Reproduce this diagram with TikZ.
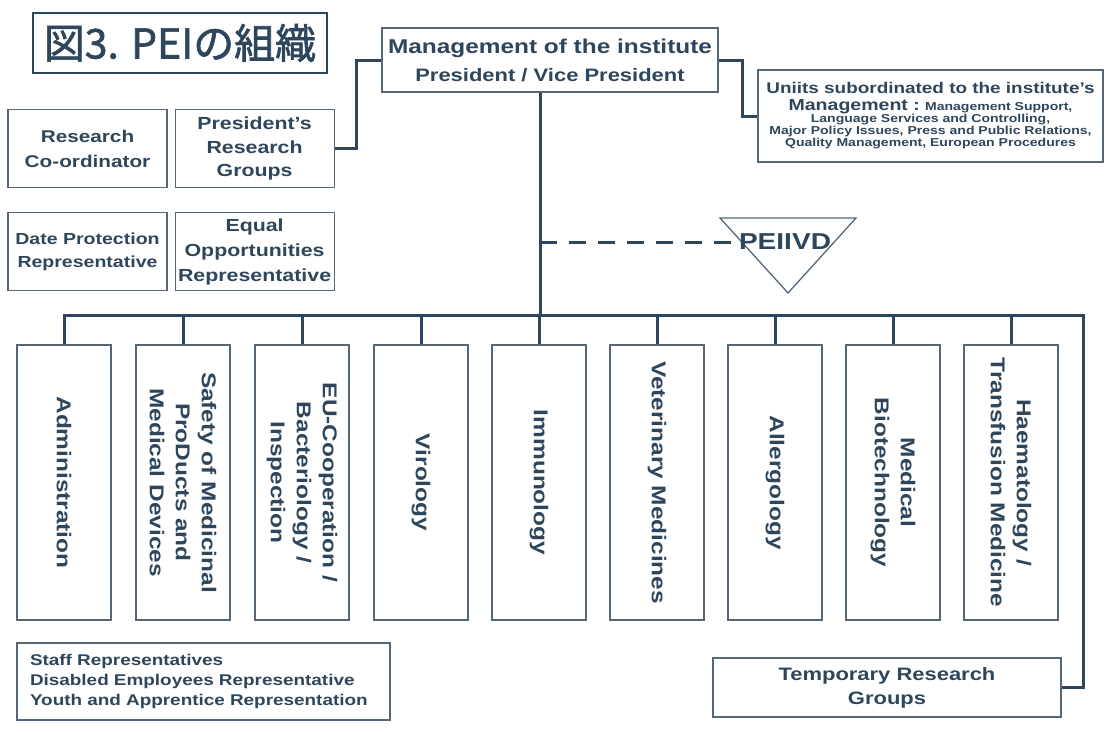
\documentclass[tikz,border=0pt]{standalone}
\usepackage{fontspec}
\setmainfont{Liberation Sans}[FakeStretch=1.22]
\newfontfamily\jpfont{Noto Sans CJK JP}[FakeBold=1.6]
\usetikzlibrary{positioning}
\definecolor{peiblue}{RGB}{46,70,92}
\definecolor{peiedge}{RGB}{86,104,120}
\tikzset{
	orgbox/.style = {draw=peiedge, line width=1.1pt, align=center, inner sep=2pt, text=peiblue, font=\bfseries},
	sidebox/.style = {orgbox, minimum width=159pt, minimum height=78pt},
	deptbox/.style = {orgbox, rotate=-90, minimum width=275pt, minimum height=94pt, font=\bfseries\fontsize{20}{26}\selectfont},
	link/.style = {draw=peiblue, line width=3pt},
	dashlink/.style = {link, dash pattern=on 17pt off 12pt}
}

\begin{document}
\begin{tikzpicture}[x=1pt, y=-1pt]
\useasboundingbox (0,0) rectangle (1107,731);

\node [draw=peiblue, line width=2.5pt, minimum width=294pt, minimum height=60pt, text=peiblue, font=\jpfont\fontsize{41}{44}\selectfont] (title) at (180,43) {図3. PEIの組織};

\node [orgbox, minimum width=336pt, minimum height=64pt, font=\bfseries\fontsize{20}{28}\selectfont] (mgmt) at (550,60) {Management of the institute\\ \fontsize{18}{28}\selectfont President / Vice President};
\node [orgbox, minimum width=345pt, minimum height=92pt, inner sep=1pt, font=\bfseries\fontsize{11.5}{12}\selectfont] (units) at (930.5,116) {{\fontsize{15.5}{18}\selectfont Uniits subordinated to the institute's}\\[5pt] {\fontsize{16}{18}\selectfont Management :} Management Support,\\ Language Services and Controlling,\\ Major Policy Issues, Press and Public Relations,\\ Quality Management, European Procedures};

\node [sidebox, font=\bfseries\fontsize{17}{25}\selectfont] (rc) at (87.5,148.5) {Research\\Co-ordinator};
\node [sidebox, right=7pt of rc, font=\bfseries\fontsize{17.5}{23.5}\selectfont] (prg) {President's\\Research\\Groups};
\node [sidebox, below=24pt of rc, font=\bfseries\fontsize{16}{23}\selectfont] (dp) {Date Protection\\Representative};
\node [sidebox, below=24pt of prg, inner sep=0pt, font=\bfseries\fontsize{17.5}{25}\selectfont] (eo) {Equal\\Opportunities\\Representative};

\draw [draw=peiedge, line width=1.3pt] (720,218) -- (856,218) -- (788,293) -- cycle;
\node [text=peiblue, font=\bfseries\fontsize{23}{24}\selectfont, inner sep=1pt] (peiivd) at (785,242) {PEIIVD};

\foreach \x/\name/\txt in {
	64/adm/Administration,
	183/saf/{Safety of Medicinal\\ProDucts and\\Medical Devices},
	302/eu/{EU-Cooperation /\\Bacteriology /\\Inspection},
	421/vir/Virology,
	539/imm/Immunology,
	657/vet/Veterinary Medicines,
	775/all/Allergology,
	893/bio/{Medical\\Biotechnology},
	1011/hae/{Haematology /\\Transfusion Medicine}}
	\node [deptbox] (\name) at (\x,482.5) {\txt};

\node [orgbox, minimum width=348pt, minimum height=59pt, font=\bfseries\fontsize{18}{24}\selectfont] (temp) at (887,687.5) {Temporary Research\\Groups};
\node [orgbox, align=left, text width=347pt, inner xsep=13pt, minimum height=77pt, font=\bfseries\fontsize{15.5}{20}\selectfont] (staff) at (203.5,681.5) {Staff Representatives\\Disabled Employees Representative\\Youth and Apprentice Representation};

\coordinate (trunk) at (540,315);
\coordinate (busR) at (1083,315);

\draw [link] (mgmt.west) -- ++(-25,0) |- (prg.east);
\draw [link] (mgmt.east) -- ++(24,0) |- (units.west);
\draw [link] (mgmt.south -| trunk) -- (trunk);
\draw [dashlink] (trunk |- peiivd) -- (peiivd.west);
\draw [link] (adm.west) |- (busR) |- (temp.east);
\foreach \name in {saf,eu,vir,imm,vet,all,bio,hae}
	\draw [link] (\name.west) -- (\name.west |- trunk);
\end{tikzpicture}
\end{document}
